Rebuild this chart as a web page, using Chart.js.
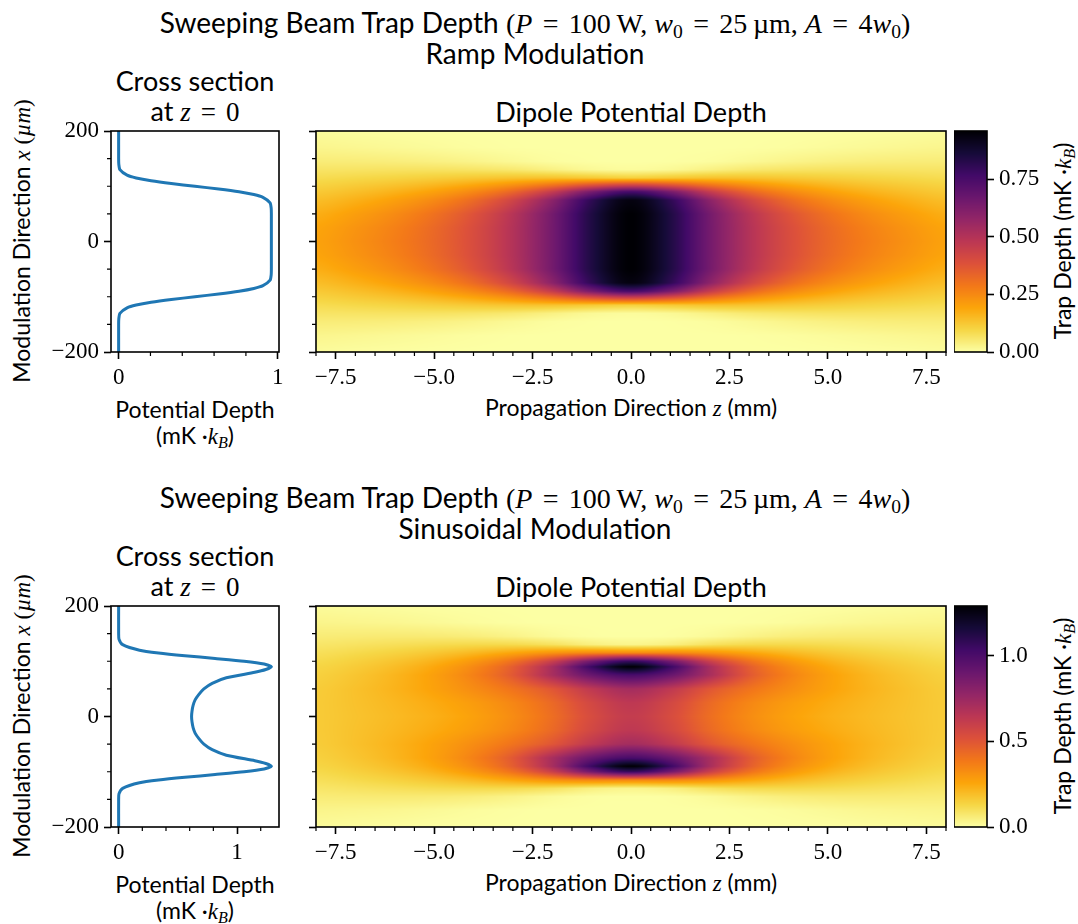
<!DOCTYPE html>
<html>
<head>
<meta charset="utf-8">
<script src="https://cdn.jsdelivr.net/npm/chart.js@4.4.1/dist/chart.umd.min.js"></script>
<style>
  body { margin: 0; width: 1078px; height: 924px; background: #fff; position: relative; overflow: hidden;
         font-family: Lato, sans-serif; color: #000; }
  canvas { position: absolute; }
  .c { position: absolute; transform: translate(-50%, -50%); white-space: nowrap; font-size: 23px; line-height: 1; }
  .t { font-size: 27px; }
  .s { font-size: 28px; }
  .r { transform: translate(-50%, -50%) rotate(-90deg); }
  .m { font-family: 'Liberation Serif', serif; }
  .m i, i.m { font-style: italic; }
  .eq { margin: 0 0.12em; }
  sub { font-size: 0.7em; vertical-align: -0.25em; line-height: 0; }
</style>
</head>
<body>

<!-- top row texts -->
<div class="c s" style="left:535px;top:23px">Sweeping Beam Trap Depth <span class="m">(<i>P</i> <span class="eq">=</span> 100&thinsp;W, <i>w</i><sub>0</sub> <span class="eq">=</span> 25&thinsp;µm, <i>A</i> <span class="eq">=</span> 4<i>w</i><sub>0</sub>)</span></div>
<div class="c s" style="left:535px;top:53px">Ramp Modulation</div>
<div class="c t" style="left:195px;top:80px">Cross section</div>
<div class="c t" style="left:195px;top:111px">at <span class="m"><i>z</i> <span class="eq">=</span> 0</span></div>
<div class="c t" style="left:631px;top:111px">Dipole Potential Depth</div>
<div class="c" style="left:631px;top:408px">Propagation Direction <i class="m">z</i> (mm)</div>
<div class="c" style="left:195px;top:409px">Potential Depth</div>
<div class="c" style="left:195px;top:436px">(mK ·<i class="m">k</i><sub class="m"><i>B</i></sub>)</div>
<div class="c r" style="left:22px;top:241px">Modulation Direction <i class="m">x</i> <span class="m">(<i>µm</i>)</span></div>
<div class="c r" style="left:1063px;top:241px">Trap Depth (mK ·<i class="m">k</i><sub class="m"><i>B</i></sub>)</div>

<!-- bottom row texts -->
<div class="c s" style="left:535px;top:498px">Sweeping Beam Trap Depth <span class="m">(<i>P</i> <span class="eq">=</span> 100&thinsp;W, <i>w</i><sub>0</sub> <span class="eq">=</span> 25&thinsp;µm, <i>A</i> <span class="eq">=</span> 4<i>w</i><sub>0</sub>)</span></div>
<div class="c s" style="left:535px;top:528px">Sinusoidal Modulation</div>
<div class="c t" style="left:195px;top:555px">Cross section</div>
<div class="c t" style="left:195px;top:586px">at <span class="m"><i>z</i> <span class="eq">=</span> 0</span></div>
<div class="c t" style="left:631px;top:586px">Dipole Potential Depth</div>
<div class="c" style="left:631px;top:883px">Propagation Direction <i class="m">z</i> (mm)</div>
<div class="c" style="left:195px;top:884px">Potential Depth</div>
<div class="c" style="left:195px;top:911px">(mK ·<i class="m">k</i><sub class="m"><i>B</i></sub>)</div>
<div class="c r" style="left:22px;top:716px">Modulation Direction <i class="m">x</i> <span class="m">(<i>µm</i>)</span></div>
<div class="c r" style="left:1063px;top:716px">Trap Depth (mK ·<i class="m">k</i><sub class="m"><i>B</i></sub>)</div>

<script>
// cross section at z = 0 (positions in µm, depth in mK·kB)
const crossX = [-200, -150, -140, -130, -120, -115, -110, -105, -100, -95, -90, -85, -80, -70, -60, -50, -40, -30, -20, -10,
  0, 10, 20, 30, 40, 50, 60, 70, 80, 85, 90, 95, 100, 105, 110, 115, 120, 130, 140, 150, 200];
const crossRamp = [0, 0, 0.001, 0.008, 0.053, 0.110, 0.204, 0.331, 0.480, 0.629, 0.757, 0.850, 0.907, 0.952, 0.959, 0.960, 0.960, 0.960, 0.960, 0.960,
  0.960, 0.960, 0.960, 0.960, 0.960, 0.960, 0.959, 0.952, 0.907, 0.850, 0.757, 0.629, 0.480, 0.331, 0.204, 0.110, 0.053, 0.008, 0.001, 0, 0];
const crossSine = [0, 0, 0.003, 0.034, 0.176, 0.337, 0.560, 0.815, 1.060, 1.229, 1.290, 1.243, 1.150, 0.910, 0.790, 0.720, 0.678, 0.646, 0.629, 0.620,
  0.616, 0.620, 0.629, 0.646, 0.678, 0.720, 0.790, 0.910, 1.150, 1.243, 1.290, 1.229, 1.060, 0.815, 0.560, 0.337, 0.176, 0.034, 0.003, 0, 0];

// depth maps: one column per z (mm), each column runs over xGrid (µm)
const zGrid = [-8, -7, -6, -5, -4, -3, -2, -1, 0, 1, 2, 3, 4, 5, 6, 7, 8];
const xGrid = [-200, -170, -145, -130, -115, -100, -90, -75, -50, -25, 0, 25, 50, 75, 90, 100, 115, 130, 145, 170, 200];

const rampDepth = [
  [0.008,0.023,0.045,0.064,0.085,0.108,0.123,0.145,0.175,0.194,0.200,0.194,0.175,0.145,0.123,0.108,0.085,0.064,0.045,0.023,0.008],
  [0.005,0.019,0.044,0.066,0.093,0.123,0.142,0.170,0.207,0.228,0.235,0.228,0.207,0.170,0.142,0.123,0.093,0.066,0.044,0.019,0.005],
  [0.003,0.014,0.041,0.068,0.102,0.141,0.167,0.204,0.248,0.270,0.277,0.270,0.248,0.204,0.167,0.141,0.102,0.068,0.041,0.014,0.003],
  [0.001,0.009,0.035,0.068,0.113,0.166,0.202,0.251,0.305,0.326,0.330,0.326,0.305,0.251,0.202,0.166,0.113,0.068,0.035,0.009,0.001],
  [0,0.004,0.026,0.063,0.124,0.201,0.254,0.321,0.383,0.400,0.402,0.400,0.383,0.321,0.254,0.201,0.124,0.063,0.026,0.004,0],
  [0,0.001,0.015,0.053,0.133,0.252,0.333,0.429,0.494,0.503,0.503,0.503,0.494,0.429,0.333,0.252,0.133,0.053,0.015,0.001,0],
  [0,0,0.005,0.034,0.135,0.326,0.460,0.594,0.649,0.651,0.651,0.651,0.649,0.594,0.460,0.326,0.135,0.034,0.005,0,0],
  [0,0,0.001,0.015,0.123,0.422,0.641,0.810,0.844,0.844,0.844,0.844,0.844,0.810,0.641,0.422,0.123,0.015,0.001,0,0],
  [0,0,0,0.008,0.110,0.480,0.757,0.938,0.960,0.960,0.960,0.960,0.960,0.938,0.757,0.480,0.110,0.008,0,0,0],
  [0,0,0.001,0.015,0.123,0.422,0.641,0.810,0.844,0.844,0.844,0.844,0.844,0.810,0.641,0.422,0.123,0.015,0.001,0,0],
  [0,0,0.005,0.034,0.135,0.326,0.460,0.594,0.649,0.651,0.651,0.651,0.649,0.594,0.460,0.326,0.135,0.034,0.005,0,0],
  [0,0.001,0.015,0.053,0.133,0.252,0.333,0.429,0.494,0.503,0.503,0.503,0.494,0.429,0.333,0.252,0.133,0.053,0.015,0.001,0],
  [0,0.004,0.026,0.063,0.124,0.201,0.254,0.321,0.383,0.400,0.402,0.400,0.383,0.321,0.254,0.201,0.124,0.063,0.026,0.004,0],
  [0.001,0.009,0.035,0.068,0.113,0.166,0.202,0.251,0.305,0.326,0.330,0.326,0.305,0.251,0.202,0.166,0.113,0.068,0.035,0.009,0.001],
  [0.003,0.014,0.041,0.068,0.102,0.141,0.167,0.204,0.248,0.270,0.277,0.270,0.248,0.204,0.167,0.141,0.102,0.068,0.041,0.014,0.003],
  [0.005,0.019,0.044,0.066,0.093,0.123,0.142,0.170,0.207,0.228,0.235,0.228,0.207,0.170,0.142,0.123,0.093,0.066,0.044,0.019,0.005],
  [0.008,0.023,0.045,0.064,0.085,0.108,0.123,0.145,0.175,0.194,0.200,0.194,0.175,0.145,0.123,0.108,0.085,0.064,0.045,0.023,0.008]
];

const sineDepth = [
  [0.013,0.034,0.062,0.082,0.103,0.122,0.134,0.146,0.158,0.161,0.161,0.161,0.158,0.146,0.134,0.122,0.103,0.082,0.062,0.034,0.013],
  [0.009,0.031,0.065,0.092,0.120,0.146,0.160,0.175,0.186,0.184,0.181,0.184,0.186,0.175,0.160,0.146,0.120,0.092,0.065,0.031,0.009],
  [0.006,0.026,0.067,0.103,0.142,0.178,0.197,0.216,0.222,0.211,0.204,0.211,0.222,0.216,0.197,0.178,0.142,0.103,0.067,0.026,0.006],
  [0.002,0.018,0.065,0.114,0.171,0.225,0.253,0.275,0.269,0.244,0.232,0.244,0.269,0.275,0.253,0.225,0.171,0.114,0.065,0.018,0.002],
  [0.001,0.009,0.056,0.121,0.210,0.297,0.338,0.363,0.330,0.286,0.271,0.286,0.330,0.363,0.338,0.297,0.210,0.121,0.056,0.009,0.001],
  [0,0.003,0.038,0.118,0.259,0.411,0.477,0.495,0.404,0.347,0.331,0.347,0.404,0.495,0.477,0.411,0.259,0.118,0.038,0.003,0],
  [0,0,0.016,0.095,0.310,0.599,0.714,0.710,0.500,0.437,0.421,0.437,0.500,0.710,0.714,0.599,0.310,0.095,0.016,0,0],
  [0,0,0.003,0.052,0.342,0.875,1.056,0.910,0.637,0.562,0.542,0.562,0.637,0.910,1.056,0.875,0.342,0.052,0.003,0,0],
  [0,0,0.001,0.034,0.340,1.060,1.290,1.010,0.720,0.638,0.616,0.638,0.720,1.010,1.290,1.060,0.340,0.034,0.001,0,0],
  [0,0,0.003,0.052,0.342,0.875,1.056,0.910,0.637,0.562,0.542,0.562,0.637,0.910,1.056,0.875,0.342,0.052,0.003,0,0],
  [0,0,0.016,0.095,0.310,0.599,0.714,0.710,0.500,0.437,0.421,0.437,0.500,0.710,0.714,0.599,0.310,0.095,0.016,0,0],
  [0,0.003,0.038,0.118,0.259,0.411,0.477,0.495,0.404,0.347,0.331,0.347,0.404,0.495,0.477,0.411,0.259,0.118,0.038,0.003,0],
  [0.001,0.009,0.056,0.121,0.210,0.297,0.338,0.363,0.330,0.286,0.271,0.286,0.330,0.363,0.338,0.297,0.210,0.121,0.056,0.009,0.001],
  [0.002,0.018,0.065,0.114,0.171,0.225,0.253,0.275,0.269,0.244,0.232,0.244,0.269,0.275,0.253,0.225,0.171,0.114,0.065,0.018,0.002],
  [0.006,0.026,0.067,0.103,0.142,0.178,0.197,0.216,0.222,0.211,0.204,0.211,0.222,0.216,0.197,0.178,0.142,0.103,0.067,0.026,0.006],
  [0.009,0.031,0.065,0.092,0.120,0.146,0.160,0.175,0.186,0.184,0.181,0.184,0.186,0.175,0.160,0.146,0.120,0.092,0.065,0.031,0.009],
  [0.013,0.034,0.062,0.082,0.103,0.122,0.134,0.146,0.158,0.161,0.161,0.161,0.158,0.146,0.134,0.122,0.103,0.082,0.062,0.034,0.013]
];

const rampMax = 0.96;
const sineMax = 1.29;

// ticks
const posTicks = [-200, 0, 200];
const posMinor = [-150, -100, -50, 50, 100, 150];
const depthTicks = [0, 1];
const rampDepthMinor = [0.2, 0.4, 0.6, 0.8];
const sineDepthMinor = [0.2, 0.4, 0.6, 0.8, 1.2];
const zTicks = [-7.5, -5, -2.5, 0, 2.5, 5, 7.5];
const zMinor = [-8, -7, -6.5, -6, -5.5, -4.5, -4, -3.5, -3, -2, -1.5, -1, -0.5, 0.5, 1, 1.5, 2, 3, 3.5, 4, 4.5, 5.5, 6, 6.5, 7, 8];
const rampBarTicks = [0, 0.25, 0.5, 0.75];
const sineBarTicks = [0, 0.5, 1.0];

// inferno colour stops, used reversed (0 -> pale yellow)
const INFERNO = [[0,0,4],[22,11,57],[66,10,104],[106,23,110],[147,38,103],[188,55,84],
  [221,81,58],[243,120,25],[252,165,10],[246,215,70],[252,255,164]];

function infernoR(f) {
  const t = 1 - Math.min(1, Math.max(0, f));
  const p = t * 10, i = Math.min(9, Math.floor(p)), u = p - i;
  const a = INFERNO[i], b = INFERNO[i + 1];
  return [a[0] + (b[0] - a[0]) * u, a[1] + (b[1] - a[1]) * u, a[2] + (b[2] - a[2]) * u];
}

function locate(grid, v) {
  if (v <= grid[0]) return [0, 0];
  for (let i = 0; i < grid.length - 1; i++) {
    if (v <= grid[i + 1]) return [i, (v - grid[i]) / (grid[i + 1] - grid[i])];
  }
  return [grid.length - 2, 1];
}

// Catmull-Rom shading between neighbouring columns
function catmull(p0, p1, p2, p3, t) {
  return 0.5 * (2 * p1 + (p2 - p0) * t + (2 * p0 - 5 * p1 + 4 * p2 - p3) * t * t + (3 * p1 - p0 - 3 * p2 + p3) * t * t * t);
}

const minus = v => String(v).replace('-', '\u2212');

// shades the depth grid of a dataset into the chart area
const heatmapPlugin = {
  id: 'heatmap',
  beforeDatasetsDraw(chart) {
    const ds = chart.data.datasets[0];
    if (!ds || !ds.grid) return;
    const g = ds.grid, nz = g.zs.length;
    const a = chart.chartArea, sx = chart.scales.x, sy = chart.scales.y;
    const w = Math.round(a.right - a.left), h = Math.round(a.bottom - a.top);
    const off = document.createElement('canvas');
    off.width = w; off.height = h;
    const octx = off.getContext('2d');
    const img = octx.createImageData(w, h);
    const cols = [];
    for (let px = 0; px < w; px++) cols.push(locate(g.zs, sx.getValueForPixel(a.left + px + 0.5)));
    const colVal = new Array(nz);
    for (let py = 0; py < h; py++) {
      const [j, tj] = locate(g.xs, sy.getValueForPixel(a.top + py + 0.5));
      for (let k = 0; k < nz; k++) colVal[k] = g.values[k][j] * (1 - tj) + g.values[k][j + 1] * tj;
      for (let px = 0; px < w; px++) {
        const [i, ti] = cols[px];
        const v = catmull(colVal[Math.max(0, i - 1)], colVal[i], colVal[i + 1], colVal[Math.min(nz - 1, i + 2)], ti);
        const c = infernoR(Math.max(0, v) / g.vmax);
        const k = (py * w + px) * 4;
        img.data[k] = c[0]; img.data[k + 1] = c[1]; img.data[k + 2] = c[2]; img.data[k + 3] = 255;
      }
    }
    octx.putImageData(img, 0, 0);
    chart.ctx.drawImage(off, a.left, a.top);
  }
};

// colour bar, one row per pixel read back through the y scale
const cbarPlugin = {
  id: 'cbar',
  defaults: { on: false },
  beforeDatasetsDraw(chart, args, opts) {
    if (!opts.on) return;
    const a = chart.chartArea, sy = chart.scales.y, ctx = chart.ctx;
    for (let py = Math.floor(a.top); py < a.bottom; py++) {
      const c = infernoR(sy.getValueForPixel(py + 0.5) / sy.max);
      ctx.fillStyle = `rgb(${c[0] | 0},${c[1] | 0},${c[2] | 0})`;
      ctx.fillRect(a.left, py, a.right - a.left, 1);
    }
  }
};

// axes frame and minor ticks
const framePlugin = {
  id: 'frame',
  defaults: { xMinor: [], yMinor: [] },
  afterDraw(chart, args, opts) {
    const a = chart.chartArea, ctx = chart.ctx;
    ctx.save();
    ctx.strokeStyle = '#000';
    ctx.lineWidth = 1.2;
    ctx.beginPath();
    (opts.xMinor || []).forEach(v => {
      const p = chart.scales.x.getPixelForValue(v);
      ctx.moveTo(p, a.bottom); ctx.lineTo(p, a.bottom + 4);
    });
    (opts.yMinor || []).forEach(v => {
      const p = chart.scales.y.getPixelForValue(v);
      ctx.moveTo(a.left, p); ctx.lineTo(a.left - 4, p);
    });
    ctx.stroke();
    ctx.lineWidth = 1.6;
    ctx.strokeRect(a.left, a.top, a.right - a.left, a.bottom - a.top);
    ctx.restore();
  }
};

Chart.register(heatmapPlugin, cbarPlugin, framePlugin);

function axis(o) {
  return {
    type: 'linear', position: o.pos, min: o.min, max: o.max,
    afterBuildTicks: s => { s.ticks = o.ticks.map(v => ({ value: v })); },
    afterFit: s => {
      if (o.pos === 'left' || o.pos === 'right') s.width = o.size; else s.height = o.size;
    },
    grid: { drawOnChartArea: false, drawTicks: true, tickLength: 7, tickWidth: 1.6, tickColor: '#000' },
    border: { display: false },
    ticks: {
      display: o.labels !== false, padding: 5, color: '#000', autoSkip: false, maxRotation: 0,
      font: { family: 'Liberation Serif', size: 23 },
      callback: o.fmt
    }
  };
}

function makeCanvas(id, area, pad) {
  const c = document.createElement('canvas');
  c.id = id;
  c.width = area.w + pad.l + pad.r;
  c.height = area.h + pad.t + pad.b;
  c.style.left = (area.x - pad.l) + 'px';
  c.style.top = (area.y - pad.t) + 'px';
  document.body.appendChild(c);
  return c;
}

function baseOptions(pad, scales, frame, cbar) {
  return {
    responsive: false, animation: false, devicePixelRatio: 1, events: [],
    layout: { padding: { left: pad.padL || 0, top: pad.t, right: pad.padR || 0, bottom: pad.padB || 0 } },
    plugins: { legend: { display: false }, tooltip: { enabled: false }, frame, cbar: { on: !!cbar } },
    scales
  };
}

function crossSection(id, top, values, vmax, minor) {
  const area = { x: 111, y: top, w: 168, h: 221 };
  const pad = { l: 111, t: 20, r: 14, b: 40, padR: 14 };
  new Chart(makeCanvas(id, area, pad), {
    type: 'scatter',
    data: {
      datasets: [{
        data: crossX.map((x, i) => ({ x: values[i], y: x })),
        showLine: true, borderColor: '#1f77b4', borderWidth: 3, pointRadius: 0, tension: 0.2
      }]
    },
    options: baseOptions(pad, {
      x: axis({ pos: 'bottom', min: -0.05 * vmax, max: 1.05 * vmax, ticks: depthTicks, size: pad.b, fmt: v => String(v) }),
      y: axis({ pos: 'left', min: -200, max: 200, ticks: posTicks, size: pad.l, fmt: minus })
    }, { xMinor: minor, yMinor: posMinor }, false)
  });
}

function heatmap(id, top, depth, vmax) {
  const area = { x: 316, y: top, w: 630, h: 221 };
  const pad = { l: 20, t: 20, r: 25, b: 40, padR: 25 };
  const nodes = [];
  zGrid.forEach((z, i) => xGrid.forEach((x, j) => nodes.push({ x: z, y: x, v: depth[i][j] })));
  new Chart(makeCanvas(id, area, pad), {
    type: 'scatter',
    data: { datasets: [{ data: nodes, pointRadius: 0, grid: { zs: zGrid, xs: xGrid, values: depth, vmax } }] },
    options: baseOptions(pad, {
      x: axis({ pos: 'bottom', min: -8, max: 8, ticks: zTicks, size: pad.b, fmt: v => minus(v.toFixed(1)) }),
      y: axis({ pos: 'left', min: -200, max: 200, ticks: posTicks, size: pad.l, labels: false })
    }, { xMinor: zMinor, yMinor: posMinor }, false)
  });
}

function colorbar(id, top, vmax, ticks, digits) {
  const area = { x: 954, y: top, w: 33, h: 221 };
  const pad = { l: 0, t: 20, r: 70, b: 20, padB: 20 };
  new Chart(makeCanvas(id, area, pad), {
    type: 'scatter',
    data: { datasets: [{ data: [] }] },
    options: baseOptions(pad, {
      x: { display: false, min: 0, max: 1 },
      y: axis({ pos: 'right', min: 0, max: vmax, ticks: ticks, size: pad.r, fmt: v => v.toFixed(digits) })
    }, { xMinor: [], yMinor: [] }, true)
  });
}

crossSection('crossRamp', 131, crossRamp, rampMax, rampDepthMinor);
heatmap('mapRamp', 131, rampDepth, rampMax);
colorbar('barRamp', 131, rampMax, rampBarTicks, 2);

crossSection('crossSine', 606, crossSine, sineMax, sineDepthMinor);
heatmap('mapSine', 606, sineDepth, sineMax);
colorbar('barSine', 606, sineMax, sineBarTicks, 1);
</script>
</body>
</html>
